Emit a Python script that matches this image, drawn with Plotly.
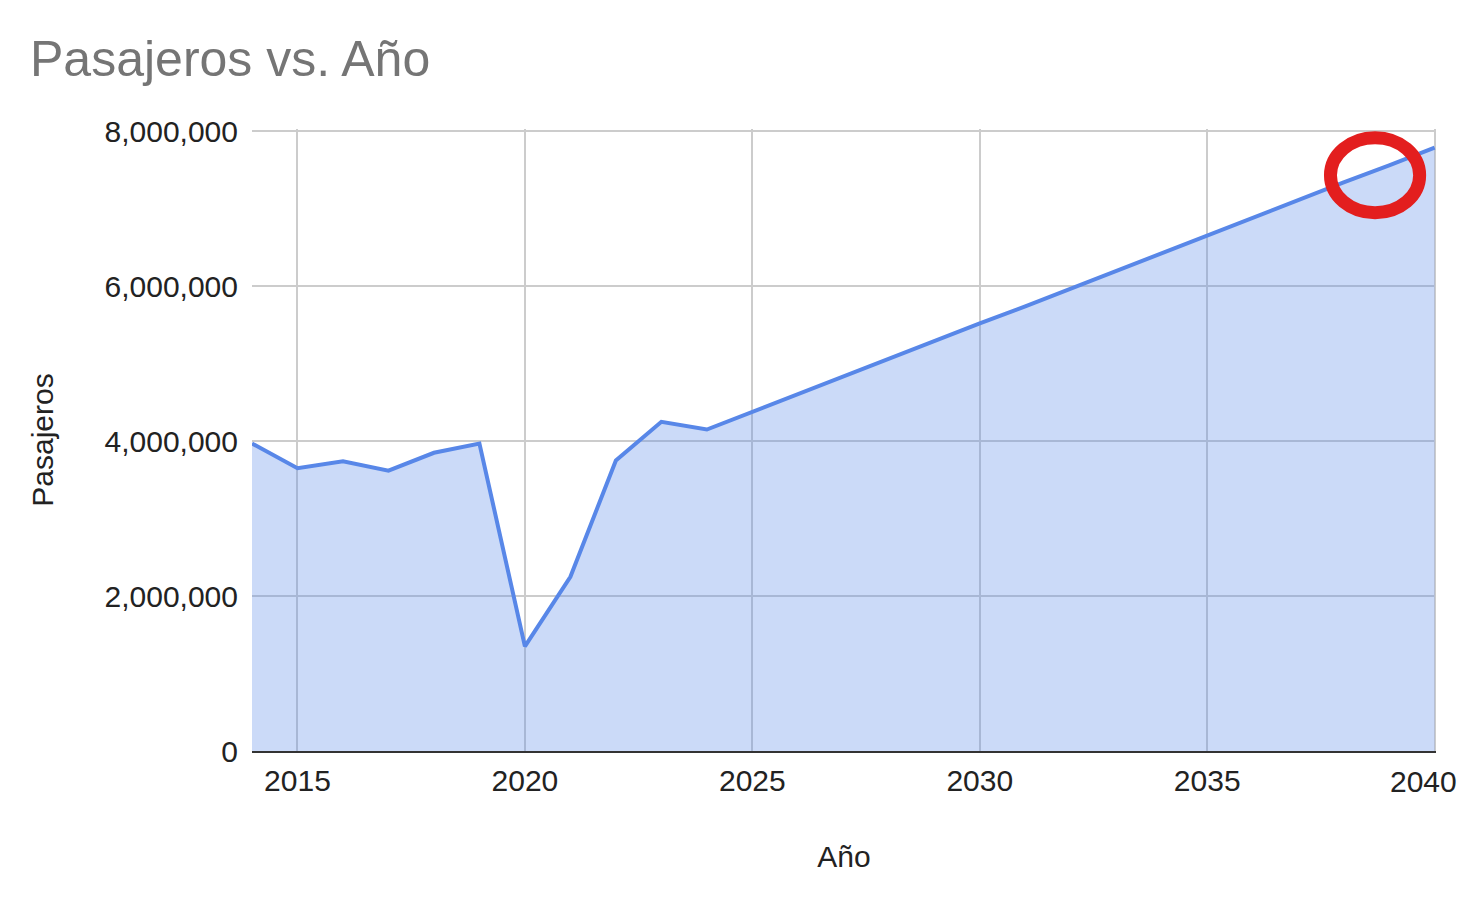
import plotly.graph_objects as go

years = list(range(2014, 2041))
pasajeros = [
    3970000, 3650000, 3740000, 3620000, 3850000, 3970000,
    1350000, 2250000, 3750000, 4250000, 4150000,
    4380000, 4600000, 4830000, 5060000, 5290000, 5520000,
    5740000, 5970000, 6200000, 6430000, 6650000, 6880000,
    7110000, 7340000, 7560000, 7790000,
]
title_text = "Pasajeros vs. Año"
x_title = "Año"
y_title = "Pasajeros"
x_ticks = [2015, 2020, 2025, 2030, 2035, 2040]
y_ticks = [0, 2000000, 4000000, 6000000, 8000000]

line_color = "rgb(88,135,232)"
fill_color = "rgba(88,135,232,0.31)"
font_family = "Liberation Sans, Arial, sans-serif"

fig = go.Figure()
fig.add_trace(go.Scatter(
    x=years, y=pasajeros, mode="lines",
    line=dict(color=line_color, width=4),
    fill="tozeroy", fillcolor=fill_color,
    hoverinfo="x+y", showlegend=False, cliponaxis=False,
))

# red highlight ellipse
fig.add_shape(type="circle", xref="x", yref="y",
              x0=2037.71, x1=2039.67, y0=6948000, y1=7916000,
              line=dict(color="#e31e1e", width=13), layer="above")

# last tick label, kept inside the page (right-aligned to the page edge)
last_tick = x_ticks[-1]
tick_text = [str(v) for v in x_ticks[:-1]] + [""]
fig.add_annotation(text=str(last_tick), xref="x", x=last_tick, yref="paper", y=0,
                   xanchor="right", yanchor="middle", xshift=24, yshift=-30,
                   showarrow=False, font=dict(family=font_family, size=30, color="#222222"))

W, H = 1459, 889
fig.update_layout(
    width=W, height=H,
    paper_bgcolor="white", plot_bgcolor="white",
    margin=dict(l=244, r=31, t=121, b=146, autoexpand=False),
    font=dict(family=font_family, color="#222222", size=30),
    title=dict(text=title_text, xref="container", yref="container",
               x=22/W, xanchor="left", y=1-50/H, yanchor="middle",
               font=dict(family=font_family, size=50, color="#757575")),
)
fig.update_xaxes(
    range=[2014, 2040.03], tickvals=x_ticks, ticktext=tick_text,
    showgrid=True, gridcolor="#cccccc", gridwidth=2,
    showline=True, linecolor="#333333", linewidth=2,
    zeroline=False, ticks="", ticklabelstandoff=2, ticklabeloverflow="allow",
    tickfont=dict(size=30, color="#222222"),
    title=dict(text=x_title, standoff=50, font=dict(size=30, color="#222222")),
)
fig.update_yaxes(
    range=[0, 8030000], tickvals=y_ticks, tickformat=",d",
    showgrid=True, gridcolor="#cccccc", gridwidth=2,
    zeroline=False, showline=False, ticks="", ticklabelstandoff=13,
    ticklabeloverflow="allow",
    tickfont=dict(size=30, color="#222222"),
    title=dict(text=y_title, standoff=42, font=dict(size=30, color="#222222")),
)

fig.write_html("out.html")
